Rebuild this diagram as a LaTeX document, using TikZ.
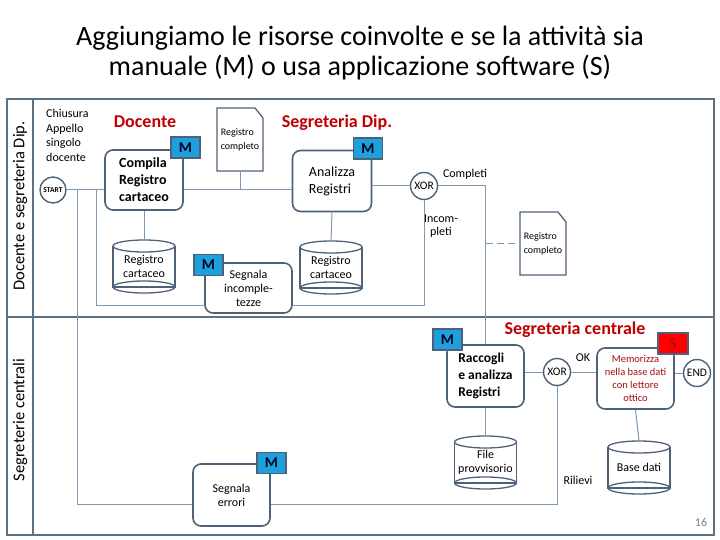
\documentclass[tikz,border=0pt]{standalone}
\usepackage{fontspec}
\setmainfont{Carlito}
\usetikzlibrary{calc}

\definecolor{lanecol}{HTML}{5C7184}
\definecolor{boxcol}{HTML}{4D6278}
\definecolor{linecol}{HTML}{7D98B3}
\definecolor{mblue}{HTML}{1EA0DC}
\definecolor{sred}{HTML}{FF0000}
\definecolor{titlered}{HTML}{C00000}
\definecolor{memored}{HTML}{A01010}

\tikzset{
  lane/.style={draw=lanecol, line width=1.6pt},
  lanelabel/.style={rotate=90, font=\fontsize{16.5}{17}\selectfont},
  title/.style={align=center, font=\fontsize{28}{30}\selectfont},
  lanetitle/.style={text=titlered, font=\bfseries\fontsize{18}{19}\selectfont},
  task/.style={draw=boxcol, line width=1.6pt, rounded corners=8pt, fill=white, inner sep=0pt},
  badge/.style={draw=boxcol, line width=1.4pt, fill=mblue, minimum width=29pt, minimum height=21pt,
    inner sep=0pt, text=black!85!blue, font=\bfseries\fontsize{15}{15}\selectfont},
  gate/.style={circle, draw=boxcol, line width=1.4pt, fill=white, minimum size=27pt, inner sep=0pt,
    font=\fontsize{11.5}{12}\selectfont},
  flow/.style={draw=linecol, line width=1pt},
  store/.style={draw=boxcol, line width=1.3pt},
  dbtext/.style={minimum width=62pt, minimum height=53pt, inner sep=0pt, align=center,
    font=\fontsize{12}{14}\selectfont},
  doctext/.style={minimum width=46pt, minimum height=63pt, inner sep=0pt, align=left,
    font=\fontsize{10}{14}\selectfont},
  lbl/.style={font=\fontsize{12}{13}\selectfont}
}

% cylinder: name, x, y, text
\newcommand{\dbstore}[4]{%
  \draw[store, fill=white] (#2-31,#3-20.5) -- (#2-31,#3+20.5) -- (#2+31,#3+20.5) -- (#2+31,#3-20.5);
  \draw[store, fill=white] (#2,#3-20.5) ellipse [x radius=31pt, y radius=6pt];
  \draw[store] (#2,#3+20.5) ellipse [x radius=31pt, y radius=6pt];
  \node[dbtext] (#1) at (#2,#3) {#4};
}
% document with folded corner: name, x, y, text
\newcommand{\regdoc}[4]{%
  \draw[store, fill=white] (#2-23,#3-31.5) -- (#2+15,#3-31.5) -- (#2+23,#3-21.5)
    -- (#2+23,#3+31.5) -- (#2-23,#3+31.5) -- cycle;
  \node[doctext] (#1) at (#2,#3) {#4};
}

\begin{document}
\begin{tikzpicture}[x=1pt,y=-1pt]
\useasboundingbox (0,0) rectangle (720,540);

\node[title] (titolo) at (360,53) {Aggiungiamo le risorse coinvolte e se la attività sia\\manuale (M) o usa applicazione software (S)};

% pool and lanes
\draw[lane] (7,99) rectangle (714,535);
\draw[lane] (7,317) -- (714,317);
\draw[lane] (33,99) -- (33,535);
\node[lanelabel] (lane1) at (20,206) {Docente e segreteria Dip.};
\node[lanelabel] (lane2) at (20,420) {Segreterie centrali};

% lane titles
\node[lanetitle] (tdoc) at (145,122) {Docente};
\node[lanetitle] (tsegr) at (337,123) {Segreteria Dip.};
\node[lanetitle] (tcentr) at (575,330) {Segreteria centrale};

\node[anchor=north west, align=left, inner sep=0pt, font=\fontsize{12}{14.5}\selectfont] (chiusura) at (46,109) {Chiusura\\Appello\\singolo\\docente};

% upper lane
\node[gate, minimum size=26pt, font=\bfseries\fontsize{7.5}{8}\selectfont] (start) at (53,190) {START};
\node[task, minimum width=78pt, minimum height=60pt, align=left, font=\bfseries\fontsize{14}{17}\selectfont] (compila) at (144,180) {Compila\\Registro\\cartaceo};
\node[badge] (m1) at (185.5,147.5) {M};
\node[task, minimum width=79pt, minimum height=61pt, align=left, font=\fontsize{14}{17}\selectfont] (analizza) at (332,181) {Analizza\\Registri};
\node[badge] (m2) at (368,148.5) {M};
\node[task, minimum width=87pt, minimum height=50pt, align=center, font=\fontsize{12}{14}\selectfont] (incomp) at (248.5,288) {Segnala\\incomple-\\tezze};
\node[badge] (m3) at (208.5,265) {M};
\node[gate] (xor1) at (424,186) {XOR};

\regdoc{doc1}{240}{139.5}{Registro\\completo}
\regdoc{doc2}{543}{243.5}{Registro\\completo}
\dbstore{cyl1}{144}{266.5}{Registro\\cartaceo}
\dbstore{cyl2}{331}{267.5}{Registro\\cartaceo}

% lower lane
\node[task, minimum width=77pt, minimum height=62pt, align=left, font=\bfseries\fontsize{13.5}{17}\selectfont] (raccogli) at (485.5,376) {Raccogli\\e analizza\\Registri};
\node[badge] (m4) at (447.5,339.5) {M};
\node[gate] (xor2) at (557,372) {XOR};
\node[task, minimum width=77pt, minimum height=61pt, align=center, text=memored, font=\fontsize{10.5}{13}\selectfont] (memorizza) at (635.5,378.5) {Memorizza\\nella base dati\\con lettore\\ottico};
\node[badge, fill=sred, minimum width=30pt, text=memored, font=\fontsize{15}{15}\selectfont] (s1) at (673,343.5) {S};
\node[gate] (fine) at (697,373) {END};
\node[task, minimum width=77pt, minimum height=62pt, align=center, font=\fontsize{12}{14}\selectfont] (errori) at (231.5,495) {Segnala\\errori};
\node[badge] (m5) at (271.5,463) {M};

\dbstore{fileprov}{485.5}{462.5}{File\\provvisorio}
\dbstore{basedati}{639}{467.5}{Base dati}

% connectors
\coordinate (b1) at (77,190);
\coordinate (b2) at (96,190);
\draw[flow] (start) -- (start -| compila.west);
\draw[flow] (compila.east |- start) -- (analizza.west |- start);
\draw[flow] (doc1.south) -- (doc1.south |- start);
\draw[flow] (b1) |- ([yshift=-9pt]errori.west);
\draw[flow] (b2) |- ([yshift=-17pt]incomp.west);
\draw[flow] (compila.south) -- (cyl1.north);
\draw[flow] (analizza.south) -- (cyl2.north);
\draw[flow] (xor1.west -| analizza.east) -- (xor1.west);
\draw[flow] (xor1.east) -| (raccogli.north);
\draw[flow] (xor1.south) |- ([yshift=-17pt]incomp.east);
\draw[flow, dashed, dash pattern=on 7pt off 4pt] (doc2.west -| raccogli.north) -- (doc2.west);
\draw[flow] (xor2.west -| raccogli.east) -- (xor2.west);
\draw[flow] (xor2.east) -- (xor2.east -| memorizza.west);
\draw[flow] (fine.west -| memorizza.east) -- (fine.west);
\draw[flow] (raccogli.south) -- (fileprov.north);
\draw[flow] (memorizza.south) -- (basedati.north);
\draw[flow] (xor2.south) |- ([yshift=-9pt]errori.east);

% labels
\node[lbl] (completi) at (465,174) {Completi};
\node[lbl, align=center] (incompleti) at (441,226) {Incom-\\pleti};
\node[lbl] (ok) at (583,358) {OK};
\node[lbl] (rilievi) at (578,480) {Rilievi};
\node[text=gray, font=\fontsize{12}{12}\selectfont] (pagina) at (701,522) {16};
\end{tikzpicture}
\end{document}
